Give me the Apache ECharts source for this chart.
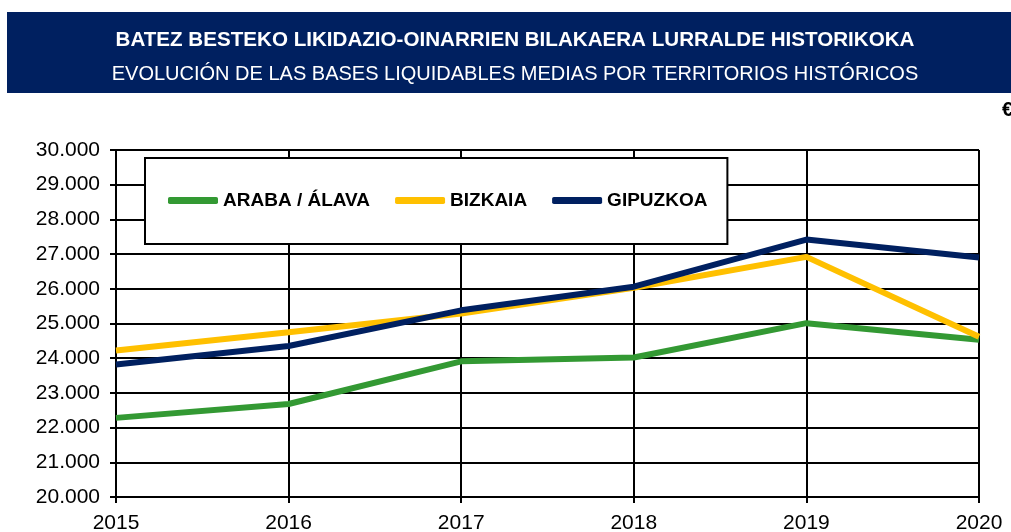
<!DOCTYPE html>
<html>
<head>
<meta charset="utf-8">
<script src="https://cdn.jsdelivr.net/npm/echarts@6/dist/echarts.min.js"></script>
<style>
  html, body { margin: 0; padding: 0; background: #fff; }
  #chart { width: 1011px; height: 532px; }
</style>
</head>
<body>
<div id="chart"></div>
<script>
var years = ['2015', '2016', '2017', '2018', '2019', '2020'];
var araba = [22280, 22680, 23910, 24020, 25010, 24530];
var bizkaia = [24220, 24750, 25290, 26030, 26920, 24620];
var gipuzkoa = [23820, 24350, 25380, 26060, 27420, 26900];
var seriesNames = ['ARABA / ÁLAVA', 'BIZKAIA', 'GIPUZKOA'];
var title1 = 'BATEZ BESTEKO LIKIDAZIO-OINARRIEN BILAKAERA LURRALDE HISTORIKOKA';
var title2 = 'EVOLUCIÓN DE LAS BASES LIQUIDABLES MEDIAS POR TERRITORIOS HISTÓRICOS';

var font = '"Liberation Sans", Arial, sans-serif';

function fmt(v) {
  return String(v).replace(/\B(?=(\d{3})+(?!\d))/g, '.');
}

var option = {
  animation: false,
  color: ['#339933', '#FFC000', '#002060'],
  textStyle: { fontFamily: font },
  graphic: [
    { type: 'rect', left: 7, top: 12, shape: { width: 1004, height: 81 }, style: { fill: '#002060' }, z: 0 },
    { type: 'text', x: 515, y: 40, style: { text: title1, fill: '#fff', font: 'bold 20.6px ' + font, textAlign: 'center', textVerticalAlign: 'middle' } },
    { type: 'text', x: 515, y: 74, style: { text: title2, fill: '#fff', font: '20px ' + font, textAlign: 'center', textVerticalAlign: 'middle' } },
    { type: 'text', x: 1002, y: 110, style: { text: '€', fill: '#000', font: 'bold 20px ' + font, textAlign: 'left', textVerticalAlign: 'middle' } }
  ],
  grid: {
    left: 116,
    right: 32,
    top: 150,
    bottom: 35,
    outerBoundsMode: 'none'
  },
  legend: {
    left: 145,
    top: 158,
    data: seriesNames,
    icon: 'roundRect',
    itemWidth: 50,
    itemHeight: 7,
    itemGap: 25,
    padding: [33, 20, 34, 23],
    borderColor: '#000',
    borderWidth: 2,
    backgroundColor: '#fff',
    textStyle: { fontSize: 19, fontWeight: 'bold', color: '#000', fontFamily: font }
  },
  xAxis: {
    type: 'category',
    data: years,
    boundaryGap: false,
    axisLine: { lineStyle: { color: '#000', width: 2 } },
    axisTick: { show: true, length: 6, lineStyle: { color: '#000', width: 2 } },
    axisLabel: { color: '#000', fontSize: 21, margin: 16 },
    splitLine: { show: true, lineStyle: { color: '#000', width: 2 } }
  },
  yAxis: {
    type: 'value',
    min: 20000,
    max: 30000,
    interval: 1000,
    axisLine: { show: true, lineStyle: { color: '#000', width: 2 } },
    axisTick: { show: true, length: 6, lineStyle: { color: '#000', width: 2 } },
    axisLabel: { color: '#000', fontSize: 21, margin: 16, formatter: fmt },
    splitLine: { show: true, lineStyle: { color: '#000', width: 2 } }
  },
  series: [
    { name: seriesNames[0], type: 'line', data: araba, symbol: 'none', lineStyle: { width: 6 } },
    { name: seriesNames[1], type: 'line', data: bizkaia, symbol: 'none', lineStyle: { width: 6 } },
    { name: seriesNames[2], type: 'line', data: gipuzkoa, symbol: 'none', lineStyle: { width: 6 } }
  ]
};

var myChart = echarts.init(document.getElementById('chart'));
myChart.setOption(option);
</script>
</body>
</html>
